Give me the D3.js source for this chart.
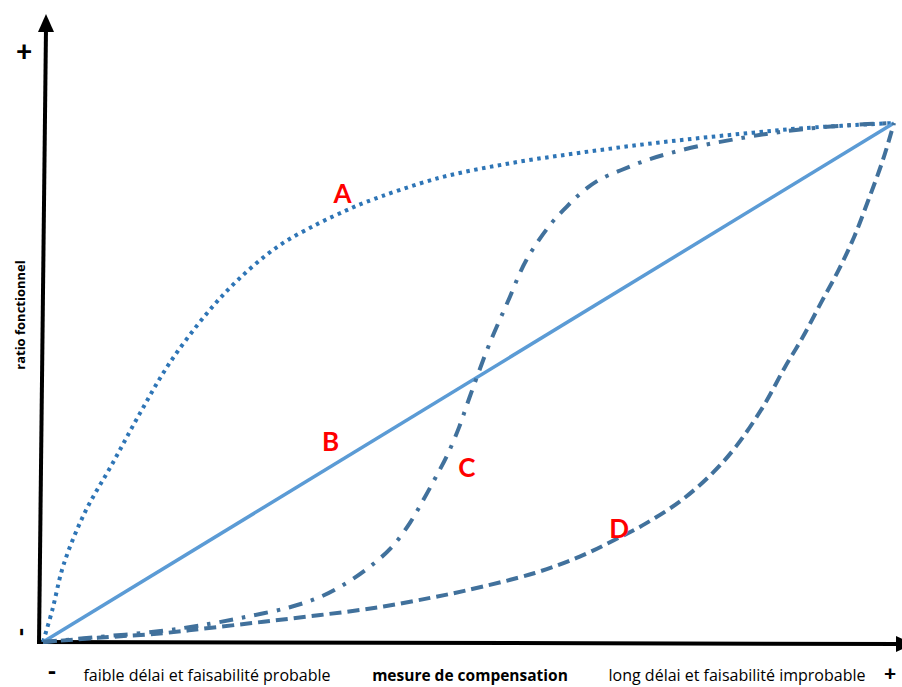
<!DOCTYPE html>
<html>
<head>
<meta charset="utf-8">
<script src="https://cdn.jsdelivr.net/npm/d3@7"></script>
<style>
  html, body { margin: 0; padding: 0; background: #ffffff; }
  svg { display: block; }
</style>
</head>
<body>
<svg id="chart" width="902" height="687"></svg>
<script>
// ---- Data (x: mesure de compensation 0-100, y: ratio fonctionnel 0-100) ----
const seriesNames = ["A", "B", "C", "D"];
const curveA = [[0,0],[1.1,6.2],[2.4,14.8],[4.9,24.9],[8.2,34.5],[11.4,44.1],[14.9,53.8],[19.3,63.4],[22.8,69.6],[27.5,76.1],[32.2,80.5],[35.7,83.2],[38.0,84.8],[46.5,89.4],[55.1,92.3],[63.7,94.4],[72.2,96.2],[80.7,97.7],[89.3,99.0],[100,100]];
const curveB = [[0,0],[100,100]];
const curveC = [[0,0],[6.7,1.0],[13.8,2.1],[19.6,3.5],[24.3,5.0],[29.0,6.7],[32.6,8.7],[35.7,11.4],[38.4,14.5],[41.0,18.3],[43.1,22.9],[44.7,27.4],[46.1,31.6],[47.5,36.0],[48.9,41.4],[49.9,46.1],[51.0,51.1],[52.5,57.6],[54.6,65.5],[56.8,73.6],[59.6,80.4],[61.5,83.8],[63.2,86.5],[65.3,89.0],[67.9,90.9],[70.7,92.7],[73.7,94.2],[77.2,95.6],[80.7,96.7],[85.0,97.9],[89.3,98.8],[94.8,99.6],[100,100]];
const curveD = [[0,0],[6.4,0.8],[14.1,1.7],[19.5,2.7],[25.9,3.9],[32.6,5.2],[39.5,6.7],[45.5,8.5],[49.9,10.0],[57.8,13.3],[63.0,16.4],[67.2,19.7],[70.9,22.9],[75.1,27.4],[78.7,32.6],[81.4,37.6],[84.6,45.3],[87.2,53.0],[89.3,58.8],[91.4,65.3],[93.5,71.7],[95.3,78.0],[97.0,85.2],[98.7,92.9],[100,100]];
// label anchor points (data units)
const labelPos = [[35.2,86.5],[33.8,38.7],[49.8,33.8],[67.7,22.0]];
const xAxisTitle = "mesure de compensation";
const xLeftText = "faible délai et faisabilité probable";
const xRightText = "long délai et faisabilité improbable";
const yAxisTitle = "ratio fonctionnel";

// ---- Layout ----
const svg = d3.select("#chart");
const x = d3.scaleLinear().domain([0, 100]).range([43, 894]);
const y = d3.scaleLinear().domain([0, 100]).range([642, 123]);

const styles = {
  A: { color: "#2e75b6", width: 4, dash: "3.5,4.5", cap: "butt", curve: d3.curveCatmullRom.alpha(0.5) },
  B: { color: "#5b9bd5", width: 3.5, dash: null, cap: "butt", curve: d3.curveLinear },
  C: { color: "#41719c", width: 4, dash: "14,9,3.5,9", cap: "butt", curve: d3.curveCatmullRom.alpha(0.5) },
  D: { color: "#41719c", width: 4, dash: "12,6", cap: "butt", curve: d3.curveCatmullRom.alpha(0.5) }
};
const allCurves = [curveA, curveB, curveC, curveD];

// ---- Axes (arrows) ----
const axisG = svg.append("g");
axisG.append("line")
  .attr("x1", x(0) - 4).attr("y1", y(0) + 2)
  .attr("x2", x(0) + 3).attr("y2", 28)
  .attr("stroke", "#000").attr("stroke-width", 4);
axisG.append("path")
  .attr("d", d3.line()([[x(0) + 3, 14], [x(0) - 5, 32], [x(0) + 11, 32]]) + "Z")
  .attr("fill", "#000");
axisG.append("line")
  .attr("x1", x(0) - 6).attr("y1", y(0))
  .attr("x2", 900).attr("y2", y(0) + 2)
  .attr("stroke", "#000").attr("stroke-width", 4);
axisG.append("path")
  .attr("d", d3.line()([[914, y(0) + 2], [896, y(0) - 6], [896, y(0) + 10]]) + "Z")
  .attr("fill", "#000");

// ---- Curves ----
const curvesG = svg.append("g");
seriesNames.forEach((name, i) => {
  const st = styles[name];
  const line = d3.line().x(d => x(d[0])).y(d => y(d[1])).curve(st.curve);
  curvesG.append("path")
    .datum(allCurves[i])
    .attr("d", line)
    .attr("fill", "none")
    .attr("stroke", st.color)
    .attr("stroke-width", st.width)
    .attr("stroke-dasharray", st.dash)
    .attr("stroke-linecap", st.cap);
});

// ---- Series labels ----
svg.append("g").selectAll("text")
  .data(seriesNames)
  .join("text")
  .attr("x", (d, i) => x(labelPos[i][0]))
  .attr("y", (d, i) => y(labelPos[i][1]))
  .attr("text-anchor", "middle")
  .attr("dominant-baseline", "central")
  .attr("font-family", "Lato, 'Open Sans', sans-serif")
  .attr("font-weight", "bold")
  .attr("font-size", 26)
  .attr("fill", "#ff0000")
  .text(d => d);

// ---- Axis texts ----
const font = "'Open Sans', Lato, 'Liberation Sans', sans-serif";
svg.append("text")
  .attr("x", 207).attr("y", 681)
  .attr("text-anchor", "middle")
  .attr("font-family", font).attr("font-size", 16)
  .attr("fill", "#000")
  .text(xLeftText);
svg.append("text")
  .attr("x", 470).attr("y", 681)
  .attr("text-anchor", "middle")
  .attr("font-family", font).attr("font-size", 15.5).attr("font-weight", "bold")
  .attr("fill", "#000")
  .text(xAxisTitle);
svg.append("text")
  .attr("x", 737).attr("y", 681)
  .attr("text-anchor", "middle")
  .attr("font-family", font).attr("font-size", 16)
  .attr("fill", "#000")
  .text(xRightText);
svg.append("text")
  .attr("transform", "translate(25,315) rotate(-90)")
  .attr("text-anchor", "middle")
  .attr("font-family", font).attr("font-size", 13).attr("font-weight", "bold")
  .attr("fill", "#000")
  .text(yAxisTitle);

// ---- +/- signs ----
const signs = [
  { t: "+", x: 24, y: 50, r: 0, s: 28 },
  { t: "-", x: 19, y: 632, r: -90, s: 24 },
  { t: "-", x: 52, y: 670, r: 0, s: 24 },
  { t: "+", x: 890, y: 672, r: 0, s: 21 }
];
svg.append("g").selectAll("text")
  .data(signs)
  .join("text")
  .attr("transform", d => `translate(${d.x},${d.y}) rotate(${d.r})`)
  .attr("text-anchor", "middle")
  .attr("dominant-baseline", "central")
  .attr("font-family", "Lato, sans-serif")
  .attr("font-weight", "900")
  .attr("font-size", d => d.s)
  .attr("fill", "#000")
  .text(d => d.t);
</script>
</body>
</html>
